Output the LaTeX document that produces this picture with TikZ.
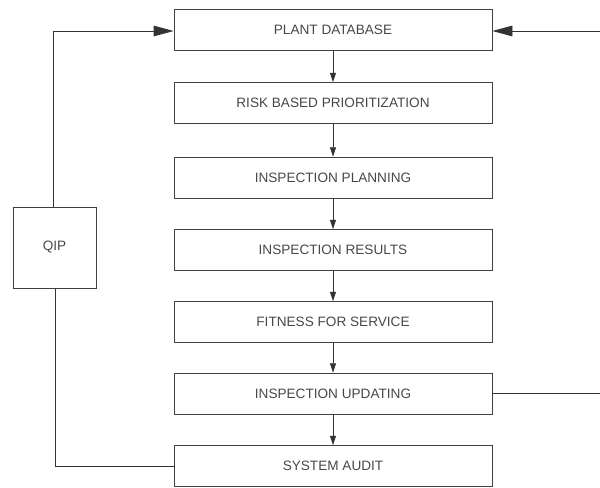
\documentclass[tikz,border=0pt]{standalone}
\usepackage{fontspec}
\setmainfont{Liberation Sans}
\usetikzlibrary{arrows.meta}
\begin{document}
\begin{tikzpicture}[x=0.75pt,y=-0.75pt,
  stage/.style={draw=black!75,line width=0.6pt,minimum width=318*0.75pt,minimum height=41*0.75pt,inner sep=0pt,font=\fontsize{10.2}{12}\selectfont,text=black!72},
  flow/.style={draw=black!80,line width=0.6pt,-{Triangle[length=7pt,width=4.5pt]}},
  bigflow/.style={draw=black!80,line width=0.6pt,-{Triangle[length=15pt,width=8pt]}},
  plain/.style={draw=black!80,line width=0.6pt}]
\useasboundingbox (0,0) rectangle (600,488);
\node[stage] (pd) at (333,29.5) {PLANT DATABASE};
\node[stage] (rb) at (333,103) {RISK BASED PRIORITIZATION};
\node[stage] (ip) at (333,177.5) {INSPECTION PLANNING};
\node[stage] (ir) at (333,250) {INSPECTION RESULTS};
\node[stage] (fs) at (333,322) {FITNESS FOR SERVICE};
\node[stage] (iu) at (333,393.5) {INSPECTION UPDATING};
\node[stage] (sa) at (333,466) {SYSTEM AUDIT};
\node[draw=black!75,line width=0.6pt,minimum width=83*0.75pt,minimum height=81*0.75pt,inner sep=0pt,font=\fontsize{10.2}{12}\selectfont,text=black!72] (qip) at (54.5,247.5) {QIP};
\draw[flow] (pd) -- (rb);
\draw[flow] (rb) -- (ip);
\draw[flow] (ip) -- (ir);
\draw[flow] (ir) -- (fs);
\draw[flow] (fs) -- (iu);
\draw[flow] (iu) -- (sa);
\coordinate (rin) at (600,31);
\coordinate (rout) at (600,393);
\draw[bigflow] (rin) -- (pd.east |- rin);
\draw[plain] (iu.east |- rout) -- (rout);
\draw[bigflow] (qip.north -| 53,0) |- (pd.west |- 0,31);
\draw[plain] (qip.south -| 55,0) |- (sa.west);
\end{tikzpicture}
\end{document}
